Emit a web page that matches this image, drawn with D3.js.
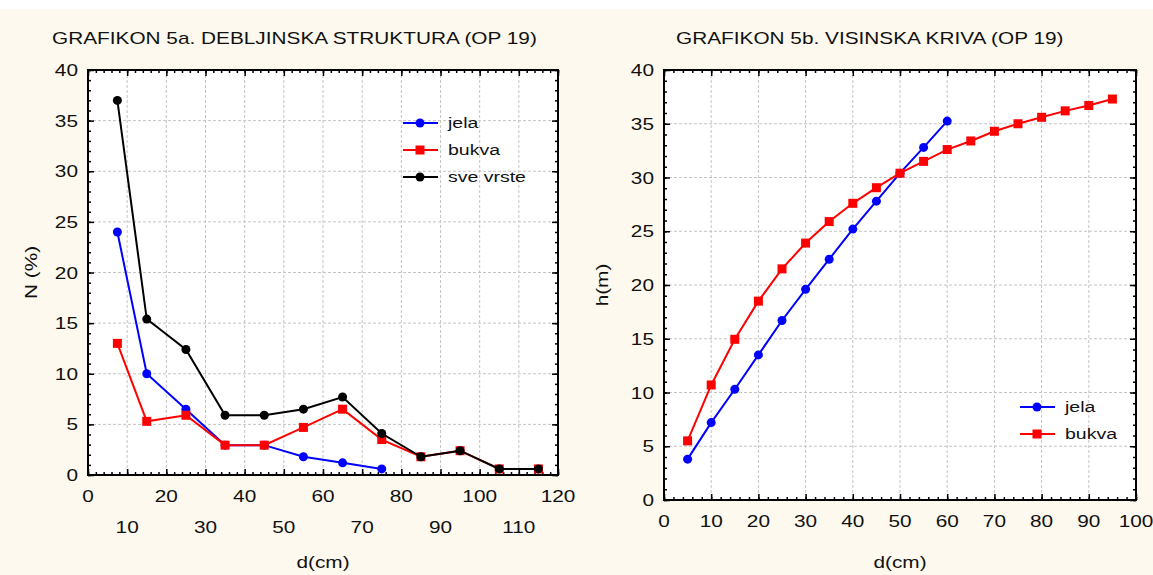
<!DOCTYPE html>
<html>
<head>
<meta charset="utf-8">
<script src="https://cdn.jsdelivr.net/npm/d3@7"></script>
<style>
  body { margin: 0; background: #fdf9ee; }
  text { font-family: "Liberation Sans", Arial, sans-serif; fill: #111; }
</style>
</head>
<body>
<script>
const w = 1153;
const h = 575;
const sx = 1.3; // text in the original is drawn wide

// Grafikon 5a - debljinska struktura
const debD = [7.5, 15, 25, 35, 45, 55, 65, 75, 85, 95, 105, 115];
const jelaN = [24.0, 10.0, 6.5, 2.95, 2.95, 1.8, 1.2, 0.6];
const bukvaN = [13.0, 5.3, 5.9, 2.95, 2.95, 4.7, 6.5, 3.5, 1.8, 2.4, 0.6, 0.6];
const sveN = [37.0, 15.4, 12.4, 5.9, 5.9, 6.5, 7.7, 4.1, 1.8, 2.4, 0.6, 0.6];

// Grafikon 5b - visinska kriva
const visD = [5, 10, 15, 20, 25, 30, 35, 40, 45, 50, 55, 60, 65, 70, 75, 80, 85, 90, 95];
const jelaH = [3.8, 7.2, 10.3, 13.5, 16.7, 19.6, 22.4, 25.2, 27.8, 30.4, 32.8, 35.25];
const bukvaH = [5.5, 10.7, 14.95, 18.5, 21.5, 23.9, 25.9, 27.6, 29.05, 30.4, 31.5, 32.6,
                33.4, 34.3, 35.0, 35.6, 36.2, 36.7, 37.3];

const xTicksA = [0, 10, 20, 30, 40, 50, 60, 70, 80, 90, 100, 110, 120];
const xTicksB = [0, 10, 20, 30, 40, 50, 60, 70, 80, 90, 100];
const yTicks = [0, 5, 10, 15, 20, 25, 30, 35, 40];

var svg = d3.select("body").append("svg")
  .attr("width", w)
  .attr("height", h);

svg.append("rect").attr("width", w).attr("height", h).attr("fill", "#fdf9ee");
svg.append("rect").attr("width", w).attr("height", 9).attr("fill", "#ffffff");

function wideText(g, x, y, str, size, anchor) {
  return g.append("text")
    .attr("transform", "translate(" + x + "," + y + ") scale(" + sx + ",1)")
    .attr("text-anchor", anchor || "start")
    .style("font-size", size + "px")
    .text(str);
}

function panel(cfg) {
  var x = d3.scaleLinear().domain(cfg.xDomain).range([cfg.left, cfg.right]);
  var y = d3.scaleLinear().domain([0, 40]).range([cfg.bottom, cfg.top]);
  var g = svg.append("g");

  g.append("rect")
    .attr("x", cfg.left).attr("y", cfg.top)
    .attr("width", cfg.right - cfg.left).attr("height", cfg.bottom - cfg.top)
    .attr("fill", "#ffffff");

  // grid
  g.append("g").selectAll("line").data(cfg.xTicks.slice(1, -1)).enter().append("line")
    .attr("x1", d => x(d)).attr("x2", d => x(d))
    .attr("y1", cfg.top).attr("y2", cfg.bottom)
    .attr("stroke", "#c4c4c4").attr("stroke-dasharray", "3,2");
  g.append("g").selectAll("line").data(yTicks.slice(1, -1)).enter().append("line")
    .attr("y1", d => y(d)).attr("y2", d => y(d))
    .attr("x1", cfg.left).attr("x2", cfg.right)
    .attr("stroke", "#c4c4c4").attr("stroke-dasharray", "3,2");

  // ticks, inward on all sides
  var xMinor = d3.range(cfg.xDomain[0], cfg.xDomain[1] + 0.01, 2);
  var yMinor = d3.range(0, 40.01, 1);
  function axisG(axis, tx, ty) {
    var a = g.append("g").attr("transform", "translate(" + tx + "," + ty + ")").call(axis);
    a.select(".domain").remove();
    a.selectAll("line").attr("stroke", "#000").attr("stroke-width", 1.5);
    a.selectAll("text").remove();
  }
  axisG(d3.axisBottom(x).tickValues(xMinor).tickSize(-3), 0, cfg.bottom);
  axisG(d3.axisBottom(x).tickValues(cfg.xTicks).tickSize(-6), 0, cfg.bottom);
  axisG(d3.axisTop(x).tickValues(xMinor).tickSize(-3), 0, cfg.top);
  axisG(d3.axisTop(x).tickValues(cfg.xTicks).tickSize(-6), 0, cfg.top);
  axisG(d3.axisLeft(y).tickValues(yMinor).tickSize(-3), cfg.left, 0);
  axisG(d3.axisLeft(y).tickValues(yTicks).tickSize(-6), cfg.left, 0);
  axisG(d3.axisRight(y).tickValues(yMinor).tickSize(-3), cfg.right, 0);
  axisG(d3.axisRight(y).tickValues(yTicks).tickSize(-6), cfg.right, 0);

  g.append("rect")
    .attr("x", cfg.left).attr("y", cfg.top)
    .attr("width", cfg.right - cfg.left).attr("height", cfg.bottom - cfg.top)
    .attr("fill", "none").attr("stroke", "#000").attr("stroke-width", 2);

  // tick labels
  yTicks.forEach(function(v) {
    wideText(g, cfg.left - 10, y(v) + 6, v, 16, "end");
  });
  cfg.xTicks.forEach(function(v, i) {
    var row = cfg.twoRows && (i % 2 == 1) ? 1 : 0;
    wideText(g, x(v), cfg.xLabelY + row * 31, v, 16, "middle");
  });

  wideText(g, cfg.titleX, 44, cfg.title, 16, "start");
  wideText(g, (cfg.left + cfg.right) / 2, 568, "d(cm)", 16, "middle");
  g.append("text")
    .attr("transform", "translate(" + cfg.yLabelX + "," + ((cfg.top + cfg.bottom) / 2) + ") rotate(-90) scale(" + sx + ",1)")
    .attr("text-anchor", "middle")
    .style("font-size", "16px")
    .text(cfg.yLabel);

  // series
  cfg.series.forEach(function(s) {
    var pts = s.values.map((v, i) => [cfg.xs[i], v]);
    g.append("path")
      .attr("d", d3.line().x(d => x(d[0])).y(d => y(d[1]))(pts))
      .attr("fill", "none").attr("stroke", s.color).attr("stroke-width", 2);
    drawMarkers(g, pts.map(p => [x(p[0]), y(p[1])]), s);
  });

  // legend
  cfg.series.forEach(function(s, i) {
    var ly = cfg.legendY + i * cfg.legendStep;
    g.append("line")
      .attr("x1", cfg.legendX).attr("x2", cfg.legendX + 35)
      .attr("y1", ly).attr("y2", ly)
      .attr("stroke", s.color).attr("stroke-width", 2);
    drawMarkers(g, [[cfg.legendX + 17, ly]], s);
    wideText(g, cfg.legendX + 45, ly + 5, s.name, 15, "start");
  });
}

function drawMarkers(g, pts, s) {
  if (s.shape == "square") {
    g.append("g").selectAll("rect").data(pts).enter().append("rect")
      .attr("x", d => d[0] - 4.5).attr("y", d => d[1] - 4.5)
      .attr("width", 9).attr("height", 9)
      .attr("fill", s.color);
  } else {
    g.append("g").selectAll("circle").data(pts).enter().append("circle")
      .attr("cx", d => d[0]).attr("cy", d => d[1])
      .attr("r", 4.5)
      .attr("fill", s.color);
  }
}

panel({
  left: 88, right: 558, top: 70, bottom: 475,
  xDomain: [0, 120], xTicks: xTicksA, twoRows: true, xLabelY: 502,
  xs: debD,
  title: "GRAFIKON 5a. DEBLJINSKA STRUKTURA (OP 19)", titleX: 52,
  yLabel: "N (%)", yLabelX: 37,
  legendX: 403, legendY: 123, legendStep: 27,
  series: [
    { name: "jela", values: jelaN, color: "#0000ff", shape: "circle" },
    { name: "bukva", values: bukvaN, color: "#ff0000", shape: "square" },
    { name: "sve vrste", values: sveN, color: "#000000", shape: "circle" }
  ]
});

panel({
  left: 664, right: 1136, top: 70, bottom: 500,
  xDomain: [0, 100], xTicks: xTicksB, twoRows: false, xLabelY: 527,
  xs: visD,
  title: "GRAFIKON 5b. VISINSKA KRIVA (OP 19)", titleX: 676,
  yLabel: "h(m)", yLabelX: 608,
  legendX: 1020, legendY: 407, legendStep: 27,
  series: [
    { name: "jela", values: jelaH, color: "#0000ff", shape: "circle" },
    { name: "bukva", values: bukvaH, color: "#ff0000", shape: "square" }
  ]
});
</script>
</body>
</html>
